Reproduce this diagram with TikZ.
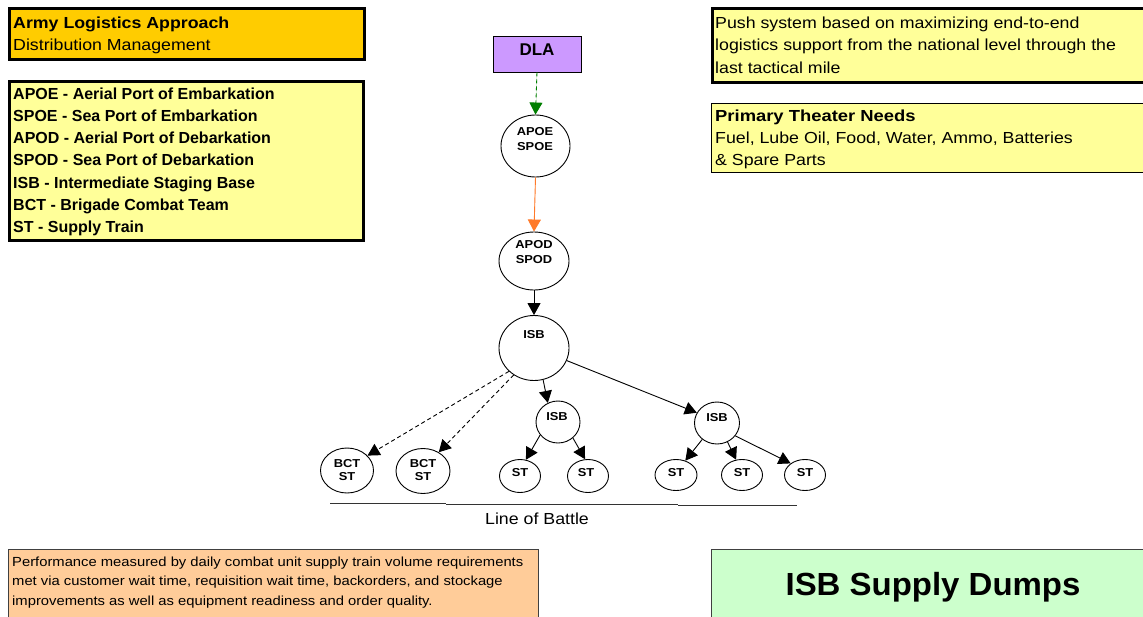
\documentclass[tikz,border=0pt]{standalone}
\usepackage{fontspec}
\setmainfont{Liberation Sans}
% slightly widened faces for the screen-style lettering
\newfontfamily\wideA[FakeStretch=1.11]{Liberation Sans}
\newfontfamily\wideB[FakeStretch=1.15]{Liberation Sans}
\newfontfamily\wideC[FakeStretch=1.12]{Liberation Sans}
\newfontfamily\wideD[FakeStretch=1.03]{Liberation Sans}
\usetikzlibrary{shapes.geometric,arrows.meta}

\definecolor{titlegold}{HTML}{FFCC00}
\definecolor{noteyellow}{HTML}{FFFF99}
\definecolor{dlapurple}{HTML}{CC99FF}
\definecolor{peach}{HTML}{FFCC99}
\definecolor{mint}{HTML}{CCFFCC}
\definecolor{flowgreen}{HTML}{007F00}
\definecolor{floworange}{HTML}{FF7A2A}

\begin{document}
\begin{tikzpicture}[x=1pt,y=-1pt,
  panel/.style={draw=black, anchor=north west, inner sep=0pt, rectangle},
  hub/.style={draw=black, line width=0.9pt, ellipse, inner sep=0pt, fill=white},
  ctext/.style={font=\wideC\fontsize{11.5}{14}\selectfont\bfseries, anchor=base, inner sep=0pt},
  boldline/.style={font=\fontsize{16}{20}\selectfont\bfseries, anchor=base west, inner sep=0pt},
  plainline/.style={font=\wideA\fontsize{16}{20}\selectfont, anchor=base west, inner sep=0pt},
  smallline/.style={font=\wideC\fontsize{13.2}{16}\selectfont, anchor=base west, inner sep=0pt},
  arr/.style={line width=0.9pt, -{Triangle[length=12pt,width=13pt]}},
  feed/.style={arr, dashed, dash pattern=on 4pt off 3pt},
  battle/.style={line width=1pt, draw=black!80}
]
\useasboundingbox (0,0) rectangle (1143,616);
\fill[white] (0,0) rectangle (1143,616);

% ---- text panels ----
\node[panel, fill=titlegold, line width=3pt, minimum width=355, minimum height=51] (title) at (8,7) {};
\node[boldline, font=\wideA\fontsize{16}{20}\selectfont\bfseries] (titleA) at (13,28) {Army Logistics Approach};
\node[plainline] (titleB) at (13,50) {Distribution Management};

\node[panel, fill=noteyellow, line width=2.5pt, minimum width=354, minimum height=159] (legend) at (8,80) {};
\foreach \t [count=\i] in {APOE - Aerial Port of Embarkation,
    SPOE - Sea Port of Embarkation,
    APOD - Aerial Port of Debarkation,
    SPOD - Sea Port of Debarkation,
    ISB - Intermediate Staging Base,
    BCT - Brigade Combat Team,
    ST - Supply Train}
  \node[boldline] (leg\i) at (13,{99+22.3*(\i-1)}) {\t};

\node[panel, fill=noteyellow, line width=3pt, minimum width=445, minimum height=74] (push) at (711,7) {};
\foreach \t [count=\i] in {Push system based on maximizing end-to-end,
    logistics support from the national level through the,
    last tactical mile}
  \node[plainline] (push\i) at (715,{28+22.5*(\i-1)}) {\t};

\node[panel, fill=noteyellow, line width=1.3pt, minimum width=445, minimum height=69] (needs) at (711,103) {};
\node[boldline, font=\wideB\fontsize{16}{20}\selectfont\bfseries] (needs1) at (715,121) {Primary Theater Needs};
\node[plainline] (needs2) at (715,143) {Fuel, Lube Oil, Food, Water, Ammo, Batteries};
\node[plainline] (needs3) at (715,165) {\& Spare Parts};

\node[panel, fill=peach, draw=black!75, line width=1.3pt, minimum width=530, minimum height=80] (perf) at (8,549) {};
\foreach \t [count=\i] in {Performance measured by daily combat unit supply train volume requirements,
    {met via customer wait time, requisition wait time, backorders, and stockage},
    improvements as well as equipment readiness and order quality.}
  \node[smallline] (perf\i) at (12,{566+19.5*(\i-1)}) {\t};

\node[panel, fill=mint, draw=black!75, line width=1.3pt, minimum width=445, minimum height=80] (dumps) at (711,549) {};
\node[font=\wideD\fontsize{32}{36}\selectfont\bfseries, anchor=base, inner sep=0pt] (dumpsT) at (933,595) {ISB Supply Dumps};

% ---- supply chain ----
\node[draw=black, line width=0.9pt, fill=dlapurple, rectangle, minimum width=88, minimum height=36, inner sep=0pt] (dla) at (537,54) {};
\node[font=\fontsize{17}{20}\selectfont\bfseries, anchor=base, inner sep=0pt] (dlaT) at (537,55) {DLA};

\node[hub, minimum width=69, minimum height=62] (apoe) at (535.5,146) {};
\node[ctext] (apoeA) at (535,135.5) {APOE};
\node[ctext] (apoeB) at (535,150.5) {SPOE};

\node[hub, minimum width=70, minimum height=58] (apod) at (534,261) {};
\node[ctext] (apodA) at (534,248.5) {APOD};
\node[ctext] (apodB) at (534,263.5) {SPOD};

\node[hub, minimum width=70, minimum height=65] (isb) at (534,348) {};
\node[ctext] (isbT) at (534,338.5) {ISB};

\node[hub, minimum width=44, minimum height=42] (isbm) at (558,422) {};
\node[ctext] (isbmT) at (557,420.5) {ISB};

\node[hub, minimum width=45, minimum height=42] (isbr) at (717,423) {};
\node[ctext] (isbrT) at (717,421.5) {ISB};

\node[hub, minimum width=53, minimum height=45] (bct1) at (347,470.5) {};
\node[ctext] (bct1A) at (347,467.5) {BCT};
\node[ctext] (bct1B) at (347,480.5) {ST};
\node[hub, minimum width=54, minimum height=45] (bct2) at (423,471) {};
\node[ctext] (bct2A) at (423,467.5) {BCT};
\node[ctext] (bct2B) at (423,480.5) {ST};

\node[hub, minimum width=41, minimum height=33] (st1) at (520,476) {};
\node[ctext] (st1T) at (520,476) {ST};
\node[hub, minimum width=41, minimum height=33] (st2) at (588,476) {};
\node[ctext] (st2T) at (586,476) {ST};
\node[hub, minimum width=42, minimum height=31] (st3) at (676,475) {};
\node[ctext] (st3T) at (676,476) {ST};
\node[hub, minimum width=41, minimum height=31] (st4) at (742,475) {};
\node[ctext] (st4T) at (742,476) {ST};
\node[hub, minimum width=41, minimum height=31] (st5) at (805,475) {};
\node[ctext] (st5T) at (805,476) {ST};

% connectors
\draw[arr, draw=flowgreen, fill=flowgreen, dashed, dash pattern=on 4pt off 3pt] (dla.south) -- (apoe.north);
\draw[arr, draw=floworange, fill=floworange] (apoe.south) -- (apod.north);
\draw[arr] (apod.south) -- (isb.north);
\draw[arr] (isb.-74) -- (isbm.118);
\draw[arr] (isb.-21) -- (isbr.153);
\draw[feed] (isb.-137) -- (bct1.36);
\draw[feed] (isb.-127) -- (bct2.50);
\draw[arr] (isbm.-144) -- (st1.70);
\draw[arr] (isbm.-47) -- (st2.100);
\draw[arr] (isbr.-132) -- (st3.57);
\draw[arr] (isbr.-61) -- (st4.111);
\draw[arr] (isbr.-35) -- (st5.141);

% line of battle
\coordinate (lobA) at (330,503.5);
\coordinate (lobB) at (446,503.5);
\coordinate (lobC) at (446,504.5);
\coordinate (lobD) at (678,504.5);
\coordinate (lobE) at (678,505.5);
\coordinate (lobF) at (797,505.5);
\draw[battle] (lobA) -- (lobB);
\draw[battle] (lobC) -- (lobD);
\draw[battle] (lobE) -- (lobF);
\node[font=\wideA\fontsize{16}{20}\selectfont, anchor=base, inner sep=0pt] (lobT) at (537,524) {Line of Battle};
\end{tikzpicture}
\end{document}
